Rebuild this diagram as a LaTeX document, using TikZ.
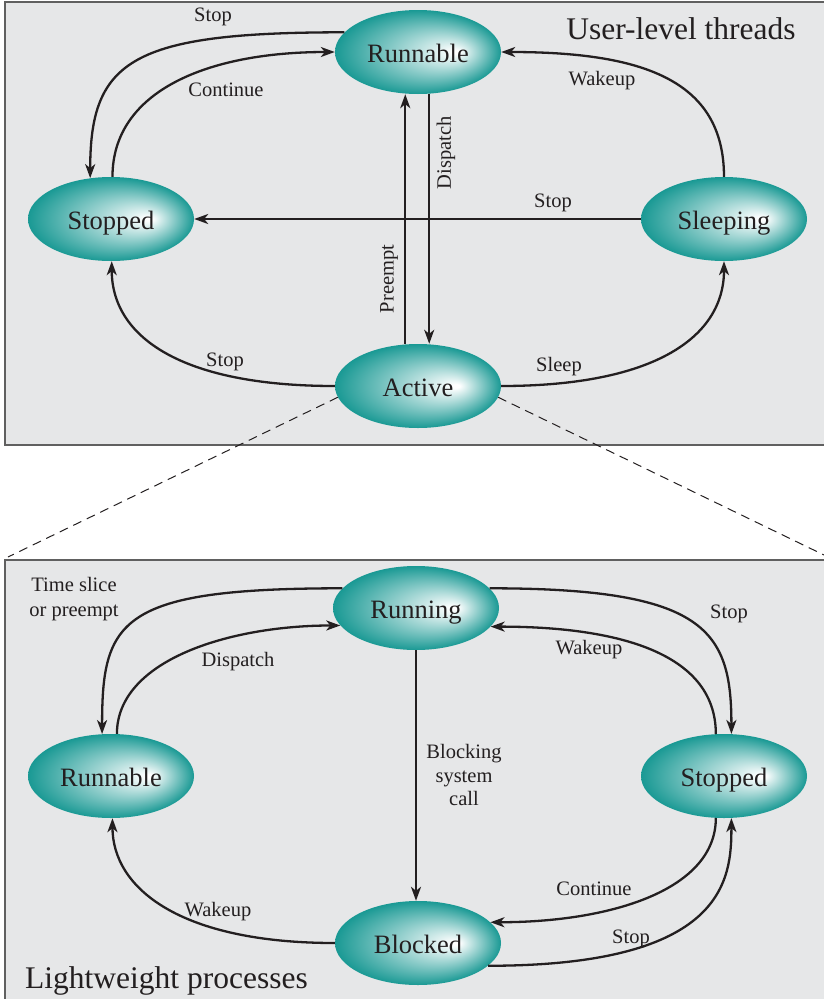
\documentclass[tikz,border=0pt]{standalone}
\usepackage{fontspec}
\setmainfont{Liberation Serif}
\usetikzlibrary{arrows.meta,shapes.geometric,calc}
\definecolor{panelbg}{HTML}{E6E7E8}
\definecolor{panelbd}{HTML}{606060}
\definecolor{ink}{HTML}{231F20}
\pgfdeclarefunctionalshading{ovalshade}{\pgfpoint{-50bp}{-50bp}}{\pgfpoint{50bp}{50bp}}{}{%
exch 12 sub 2 copy dup mul exch dup mul add exch 12 mul exch 481 mul 1 index dup mul add sqrt add 481 div exch pop
0.04 sub 0.96 div dup 1 gt {pop 1} if dup 0 lt {pop 0} if
dup 0.90 mul 1 exch sub exch dup 0.40 mul 1 exch sub exch 0.42 mul 1 exch sub}
\tikzset{
 stnode/.style={ellipse, shade, shading=ovalshade, minimum width=166pt, minimum height=84pt, inner sep=0pt, text height=20pt, text depth=0pt, font=\fontsize{26.5}{30}\selectfont, text=ink},
 lbl/.style={font=\fontsize{20.5}{24}\selectfont, text=ink, inner sep=0pt},
 arr/.style={line width=2.3pt, draw=ink, -{Stealth[length=14pt,width=10pt,inset=4pt]}},
 panel/.style={fill=panelbg, draw=panelbd, line width=2pt},
 dashline/.style={draw=ink, line width=1pt, dash pattern=on 9pt off 6pt},
 title/.style={font=\fontsize{31.5}{36}\selectfont, text=ink, inner sep=0pt},
}
\begin{document}
\begin{tikzpicture}[x=1pt,y=-1pt]
\useasboundingbox (0,0) rectangle (824,999);
\clip (0,0) rectangle (824,999);
% panels
\path[panel] (5,2) rectangle (832,445);
\path[panel] (5,560) rectangle (832,1008);
% top states
\node[stnode] (R1) at (418,52) {Runnable};
\node[stnode] (S1) at (111,219) {Stopped};
\node[stnode] (SL) at (724,219) {Sleeping};
\node[stnode] (A) at (418,386) {Active};
% bottom states
\node[stnode] (RN) at (416,608) {Running};
\node[stnode] (RB) at (111,776) {Runnable};
\node[stnode] (ST) at (724,776) {Stopped};
\node[stnode] (BL) at (418,943) {Blocked};
% titles
\node[title, anchor=base] (t1) at (681,39.5) {User-level threads};
\node[title, anchor=base west] (t2) at (25,988) {Lightweight processes};
% top edges
\draw[arr] (R1.165) .. controls +(-213,0) and +(0,-118) .. (S1.117);
\draw[arr] (S1.88) .. controls +(0,-87) and +(-125,0) .. (R1.180);
\draw[arr] (SL.90) .. controls +(0,-98) and +(139,0) .. (R1.0);
\draw[arr] (SL.180) -- (S1.0);
\draw[arr] (R1.-75) -- (R1.-75 |- A.north);
\draw[arr] (A.107) -- (A.107 |- R1.south);
\draw[arr] (A.180) .. controls +(-155,0) and +(0,75) .. (S1.-89);
\draw[arr] (A.0) .. controls +(155,0) and +(0,75) .. (SL.-90);
% top labels
\node[lbl] (l1) at (213,17) {Stop};
\node[lbl] (l2) at (226,90) {Continue};
\node[lbl] (l3) at (602,81) {Wakeup};
\node[lbl] (l4) at (553,203) {Stop};
\node[lbl, rotate=90] (l5) at (446,153) {Dispatch};
\node[lbl, rotate=90] (l6) at (389,279) {Preempt};
\node[lbl] (l7) at (225,362) {Stop};
\node[lbl] (l8) at (559,367) {Sleep};
% zoom lines
\coordinate (dl) at (8,557);
\coordinate (dr) at (824,555);
\draw[dashline] (A.188) -- (dl);
\draw[dashline] (A.-8) -- (dr);
% bottom edges
\draw[arr] (RN.165) .. controls +(-223,0) and +(0,-114) .. (RB.102);
\draw[arr] (RB.82) .. controls +(0,-74) and +(-110,0) .. (RN.193);
\draw[arr] (RN.south) -- (RN.south |- BL.north);
\draw[arr] (RN.15) .. controls +(216,0) and +(0,-104) .. (ST.80);
\draw[arr] (ST.101) .. controls +(0,-84) and +(120,0) .. (RN.-14);
\draw[arr] (ST.-101) .. controls +(0,72) and +(120,0) .. (BL.16);
\draw[arr] (BL.-18) .. controls +(238,0) and +(0,61) .. (ST.-80);
\draw[arr] (BL.180) .. controls +(-155,0) and +(0,70) .. (RB.-88);
% bottom labels
\node[lbl, align=center, font=\fontsize{20.5}{25}\selectfont] (m1) at (74,599) {Time slice\\or preempt};
\node[lbl] (m2) at (238,662) {Dispatch};
\node[lbl, align=center, font=\fontsize{20.5}{23.5}\selectfont] (m3) at (464,775) {Blocking\\system\\call};
\node[lbl] (m4) at (729,614) {Stop};
\node[lbl] (m5) at (589,650) {Wakeup};
\node[lbl] (m6) at (594,889) {Continue};
\node[lbl] (m7) at (631,939) {Stop};
\node[lbl] (m8) at (218,912) {Wakeup};
\end{tikzpicture}
\end{document}
